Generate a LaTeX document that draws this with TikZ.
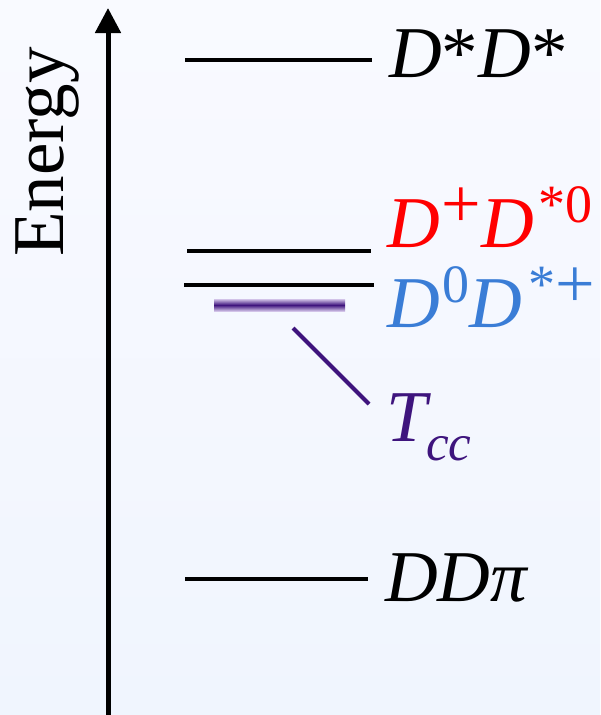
\documentclass[tikz,border=0pt]{standalone}
\usepackage{fontspec}
\setmainfont{Liberation Serif}
\usepackage{xcolor}
\usepackage{tikz}
\usetikzlibrary{arrows.meta, positioning, calc}
\definecolor{bgtop}{RGB}{249,250,255}
\definecolor{bgbot}{RGB}{240,245,254}
\definecolor{dred}{RGB}{255,0,0}
\definecolor{dblue}{RGB}{58,125,214}
\definecolor{tccpurple}{RGB}{62,20,125}
\definecolor{tccpale}{RGB}{210,195,232}

\newcommand{\lbl}{\fontsize{73}{80}\selectfont}
\newcommand{\Dit}{\textit{D}}
\newcommand{\sups}[1]{\raisebox{25pt}{\fontsize{54}{54}\selectfont #1}}
\newcommand{\splus}{\raisebox{20pt}{\fontsize{54}{54}\selectfont\scalebox{1.3}{+}}}
\newcommand{\subs}[1]{\kern-5pt\raisebox{-19pt}{\fontsize{51}{51}\selectfont\itshape #1}}

\begin{document}
\begin{tikzpicture}[x=1pt, y=-1pt,
  level/.style={line width=4.5pt, black},
  lvltext/.style={anchor=base west, inner sep=0pt, font=\lbl}]
  \useasboundingbox (0,0) rectangle (600,715);
  % Background
  \fill[top color=bgtop, bottom color=bgbot] (0,0) rectangle (600,715);
  % Energy axis
  \coordinate (axis-bot) at (108,715);
  \coordinate (axis-top) at (108,8);
  \draw[line width=5pt, -{Triangle[width=25pt, length=25pt]}] (axis-bot) -- (axis-top);
  \node[rotate=90, anchor=base, inner sep=0pt, font=\lbl] (energy) at (63,152) {Energy};
  % Levels
  \draw[level] (185,60) -- (372,60);
  \draw[level] (187,251) -- (371,251);
  \draw[level] (184,285) -- (374,285);
  \draw[level] (185,579) -- (368,579);
  \shade[top color=tccpale, bottom color=tccpale, middle color=tccpurple] (214,299) rectangle (345,311);
  % Labels
  \node[lvltext] (dsds) at (389,77) {\Dit*\Dit*};
  \node[lvltext, dred] (dpds0) at (387,247) {\Dit\kern2pt\splus\Dit\kern4pt\sups{*0}};
  \node[lvltext, dblue] (d0dsp) at (387,327) {\Dit\kern3pt\sups{0}\Dit\kern6pt\sups{*}\splus};
  \node[lvltext, tccpurple] (tcc) at (386,441) {\textit{T}\subs{cc}};
  \node[lvltext] (ddpi) at (385,601) {\Dit\Dit\textit{π}};
  % Tcc pointer
  \coordinate (tcc-a) at (293,328);
  \coordinate (tcc-b) at (369,404);
  \draw[line width=4pt, tccpurple] (tcc-a) -- (tcc-b);
\end{tikzpicture}
\end{document}
